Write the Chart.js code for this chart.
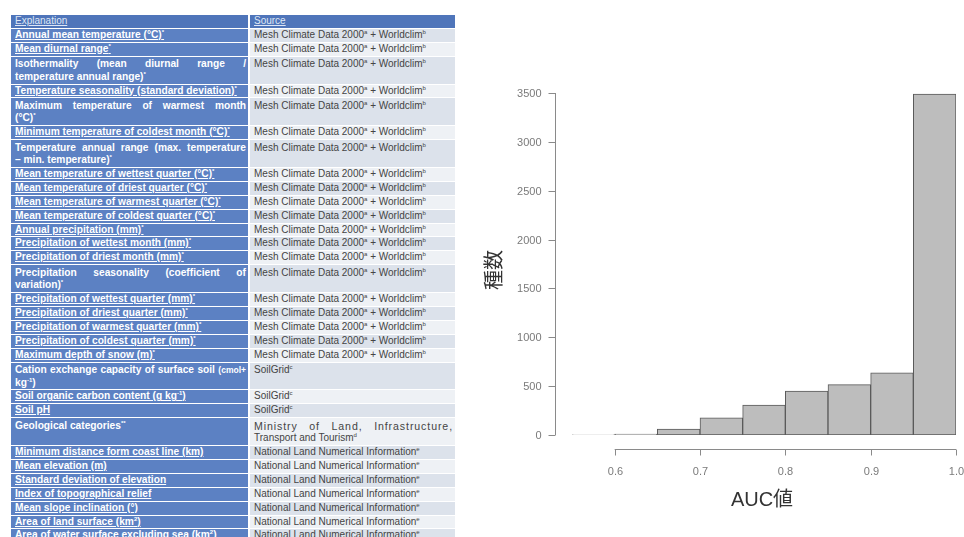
<!DOCTYPE html>
<html lang="ja">
<head>
<meta charset="UTF-8">
<title>AUC値ヒストグラム</title>
<script src="https://cdn.jsdelivr.net/npm/chart.js"></script>
<style>
    body {
        margin: 0;
        padding: 0;
        width: 964px;
        height: 537px;
        overflow: hidden;
        background: #fff;
        font-family: "Liberation Sans", Arial, sans-serif;
    }
    #varTable {
        position: absolute;
        left: 9px;
        top: 14px;
        width: 448px;
        border-collapse: separate;
        border-spacing: 2px 1px;
        table-layout: fixed;
    }
    #varTable td {
        padding: 0 2px 0 4px;
        vertical-align: top;
        line-height: 12.9px;
        height: 12.9px;
        overflow: hidden;
        white-space: nowrap;
    }
    #varTable tr.two td { height: 25.3px; line-height: 12.4px; padding-top: 1.5px; }
    #varTable td.expl {
        width: 231px;
        background: #5c81c3;
        color: #fff;
        font-weight: bold;
        font-size: 10.2px;
    }
    #varTable td.expl.u { text-decoration: underline; }
    #varTable td.src { color: #444; font-size: 10px; }
    #varTable tr.odd td.src { background: #dce2eb; }
    #varTable tr.even td.src { background: #eef1f5; }
    #varTable tr.head td { background: #4f75ba; color: #dfe7f5; text-decoration: underline; font-weight: normal; font-size: 10px; }
    #varTable .jl { display: block; text-align: justify; text-align-last: justify; white-space: normal; }
    #varTable td.src .jl { font-size: 10.6px; letter-spacing: 0.9px; }
    #varTable sup { font-size: 6px; line-height: 0; }
    .chart-box {
        position: absolute;
        left: 480px;
        top: 0;
        width: 484px;
        height: 537px;
    }
</style>
</head>
<body>
<table id="varTable"></table>
<div class="chart-box"><canvas id="aucChart"></canvas></div>

<script>
    // histogram data (AUC bins of width 0.05)
    const binStarts = [0.55, 0.60, 0.65, 0.70, 0.75, 0.80, 0.85, 0.90, 0.95];
    const binWidth = 0.05;
    const speciesCounts = [2, 10, 60, 175, 305, 450, 515, 635, 3490];
    const yTicks = [0, 500, 1000, 1500, 2000, 2500, 3000, 3500];
    const xTicks = [0.6, 0.7, 0.8, 0.9, 1.0];
    const xTitle = "AUC値";
    const yTitle = "種数";

    // table on the left ("|" marks the line break of two-line cells)
    const mesh = "Mesh Climate Data 2000<sup>a</sup> + Worldclim<sup>b</sup>";
    const soil = "SoilGrid<sup>c</sup>";
    const nlni = "National Land Numerical Information<sup>e</sup>";
    const explanations = [
        "Annual mean temperature (°C)<sup>*</sup>",
        "Mean diurnal range<sup>*</sup>",
        "Isothermality (mean diurnal range /|temperature annual range)<sup>*</sup>",
        "Temperature seasonality (standard deviation)<sup>*</sup>",
        "Maximum temperature of warmest month|(°C)<sup>*</sup>",
        "Minimum temperature of coldest month (°C)<sup>*</sup>",
        "Temperature annual range (max. temperature|– min. temperature)<sup>*</sup>",
        "Mean temperature of wettest quarter (°C)<sup>*</sup>",
        "Mean temperature of driest quarter (°C)<sup>*</sup>",
        "Mean temperature of warmest quarter (°C)<sup>*</sup>",
        "Mean temperature of coldest quarter (°C)<sup>*</sup>",
        "Annual precipitation (mm)<sup>*</sup>",
        "Precipitation of wettest month (mm)<sup>*</sup>",
        "Precipitation of driest month (mm)<sup>*</sup>",
        "Precipitation seasonality (coefficient of|variation)<sup>*</sup>",
        "Precipitation of wettest quarter (mm)<sup>*</sup>",
        "Precipitation of driest quarter (mm)<sup>*</sup>",
        "Precipitation of warmest quarter (mm)<sup>*</sup>",
        "Precipitation of coldest quarter (mm)<sup>*</sup>",
        "Maximum depth of snow (m)<sup>*</sup>",
        "Cation exchange capacity of surface soil <small>(cmol+</small>|kg<sup>-1</sup>)",
        "Soil organic carbon content (g kg<sup>-1</sup>)",
        "Soil pH",
        "Geological categories<sup>**</sup>",
        "Minimum distance form coast line (km)",
        "Mean elevation (m)",
        "Standard deviation of elevation",
        "Index of topographical relief",
        "Mean slope inclination (°)",
        "Area of land surface (km<sup>2</sup>)",
        "Area of water surface excluding sea (km<sup>2</sup>)"
    ];
    const sources = [
        mesh, mesh, mesh, mesh, mesh, mesh, mesh, mesh, mesh, mesh, mesh,
        mesh, mesh, mesh, mesh, mesh, mesh, mesh, mesh, mesh,
        soil, soil, soil,
        "Ministry of Land, Infrastructure,|Transport and Tourism<sup>d</sup>",
        nlni, nlni, nlni, nlni, nlni, nlni, nlni
    ];

    function cellHtml(text) {
        const parts = text.split("|");
        if (parts.length === 1) return text;
        return `<span class="jl">${parts[0]}</span>${parts[1]}`;
    }

    let html = '<tr class="head"><td class="expl">Explanation</td><td class="src">Source</td></tr>';
    explanations.forEach((e, i) => {
        const two = e.includes("|") || sources[i].includes("|");
        const cls = (i % 2 === 0 ? "odd" : "even") + (two ? " two" : "");
        const u = two ? "" : " u";
        html += `<tr class="${cls}"><td class="expl${u}">${cellHtml(e)}</td><td class="src">${cellHtml(sources[i])}</td></tr>`;
    });
    document.getElementById("varTable").innerHTML = html;

    // R-style axes drawn from the chart's scales
    const rAxes = {
        id: "rAxes",
        afterDraw(chart) {
            const ctx = chart.ctx;
            const xs = chart.scales.x, ys = chart.scales.y;
            const area = chart.chartArea;
            ctx.save();
            ctx.strokeStyle = "#8a8a8a";
            ctx.lineWidth = 1;
            ctx.fillStyle = "#7a7a7a";
            ctx.font = "11px 'Liberation Sans', Arial, sans-serif";

            // y axis
            const ax = Math.round(area.left - 17) + 0.5;
            ctx.beginPath();
            ctx.moveTo(ax, ys.getPixelForValue(yTicks[0]));
            ctx.lineTo(ax, ys.getPixelForValue(yTicks[yTicks.length - 1]));
            ctx.stroke();
            ctx.textAlign = "right";
            ctx.textBaseline = "middle";
            yTicks.forEach(v => {
                const py = Math.round(ys.getPixelForValue(v)) + 0.5;
                ctx.beginPath();
                ctx.moveTo(ax - 7, py);
                ctx.lineTo(ax, py);
                ctx.stroke();
                ctx.fillText(String(v), ax - 14, py);
            });

            // x axis
            const ay = Math.round(ys.getPixelForValue(0) + 14) + 0.5;
            ctx.beginPath();
            ctx.moveTo(xs.getPixelForValue(xTicks[0]), ay);
            ctx.lineTo(xs.getPixelForValue(xTicks[xTicks.length - 1]), ay);
            ctx.stroke();
            ctx.textAlign = "center";
            xTicks.forEach(v => {
                const px = Math.round(xs.getPixelForValue(v)) + 0.5;
                ctx.beginPath();
                ctx.moveTo(px, ay);
                ctx.lineTo(px, ay + 6);
                ctx.stroke();
                ctx.fillText(v.toFixed(1), px, ay + 22);
            });

            // titles
            ctx.fillStyle = "#333";
            ctx.font = "20px 'Liberation Sans', 'Noto Sans CJK JP', sans-serif";
            ctx.fillText(xTitle, (area.left + area.right) / 2 - 2, ay + 51);
            ctx.translate(13, (ys.getPixelForValue(0) + ys.getPixelForValue(3500)) / 2 + 6);
            ctx.rotate(-Math.PI / 2);
            ctx.font = "20px 'Noto Sans CJK JP', sans-serif";
            ctx.fillText(yTitle, 0, 0);
            ctx.restore();
        }
    };

    const ctx = document.getElementById("aucChart").getContext("2d");
    new Chart(ctx, {
        type: "bar",
        data: {
            datasets: [{
                label: yTitle,
                data: binStarts.map((s, i) => ({ x: s + binWidth / 2, y: speciesCounts[i] })),
                backgroundColor: "#bdbdbd",
                borderColor: "#5a5a5a",
                borderWidth: 1,
                borderSkipped: false,
                barPercentage: 1,
                categoryPercentage: 1
            }]
        },
        options: {
            responsive: true,
            maintainAspectRatio: false,
            animation: false,
            layout: { padding: { left: 92, right: 8, top: 93, bottom: 102 } },
            plugins: { legend: { display: false }, tooltip: { enabled: false } },
            scales: {
                x: { type: "linear", min: 0.55, max: 1.0, offset: false, display: false },
                y: { min: 0, max: 3500, display: false }
            }
        },
        plugins: [rAxes]
    });
</script>
</body>
</html>
